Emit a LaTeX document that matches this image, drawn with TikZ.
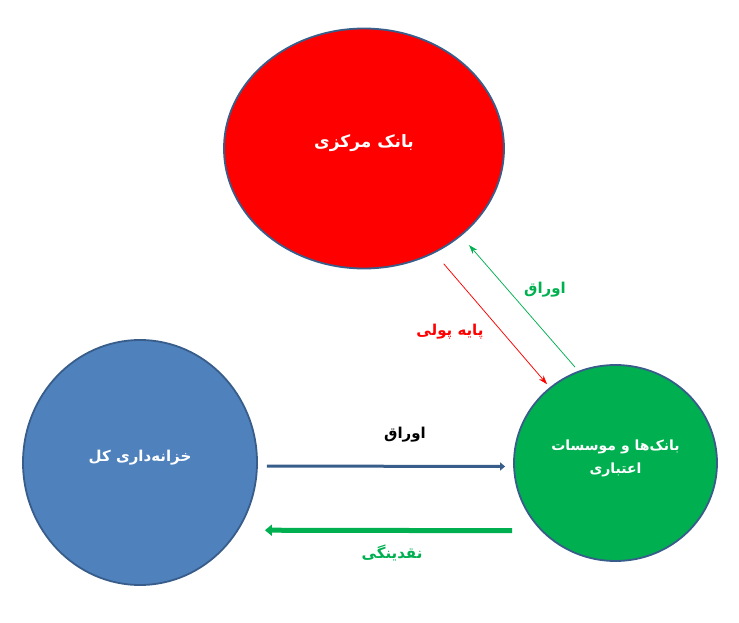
\documentclass[tikz,border=0pt]{standalone}
\usepackage{fontspec}
\usetikzlibrary{shapes.geometric,arrows.meta}
\TeXXeTstate=1
\newfontfamily\farsi[Script=Arabic]{DejaVu Sans}
\definecolor{edgeblue}{RGB}{56,93,138}
\definecolor{fillred}{RGB}{255,0,0}
\definecolor{fillblue}{RGB}{79,129,189}
\definecolor{fillgreen}{RGB}{0,176,80}
\newcommand{\liftR}[1]{\raisebox{5pt}[\height][\depth]{\beginR #1\endR}}
\tikzset{
  bubble/.style={ellipse, draw=edgeblue, line width=1.8pt, inner sep=0pt, text=white, align=center, font=\farsi\bfseries\fontsize{15}{18}\selectfont},
  thinarrow/.style={line width=0.75pt, -{Stealth[length=9pt,width=6pt]}},
  flowlabel/.style={inner sep=0pt, font=\farsi\bfseries\fontsize{15}{18}\selectfont}
}
\begin{document}
\begin{tikzpicture}[x=1pt,y=-1pt]
\useasboundingbox (0,0) rectangle (739,623);
% the three actors
\node[bubble, fill=fillred, minimum width=280, minimum height=240, font=\farsi\bfseries\fontsize{17}{20}\selectfont] (central) at (364,148.5) {\liftR{بانک مرکزی}};
\node[bubble, fill=fillblue, minimum width=234, minimum height=245] (treasury) at (140,462.5) {\liftR{خزانه‌داری کل}};
\node[bubble, fill=fillgreen, minimum width=203, minimum height=196, font=\farsi\bfseries\fontsize{14}{23}\selectfont] (banks) at (615.5,463) {\liftR{بانک‌ها و موسسات}\\\liftR{اعتباری}};
% flows between them
\draw[thinarrow, red, shorten <=14pt, shorten >=4pt] (central.-56.5) -- (banks.131.3);
\draw[thinarrow, fillgreen, shorten <=5pt, shorten >=12pt] (banks.112.4) -- (central.-42.3);
\draw[edgeblue, line width=3pt, -{Triangle[length=5pt,width=8pt]}, shorten <=9pt, shorten >=8pt] ([yshift=-3.5pt]treasury.east) -- ([yshift=-3.5pt]banks.west);
\draw[fillgreen, line width=5pt, -{Triangle[length=7pt,width=11pt]}, shorten <=1pt, shorten >=7pt] ([yshift=-67.7pt]banks.west) -- ([yshift=-67.7pt]treasury.east);
% labels
\node[flowlabel, red] (baselabel) at (450,332) {\beginR پایه پولی\endR};
\node[flowlabel, fillgreen] (paperup) at (545,290) {\beginR اوراق\endR};
\node[flowlabel] (paperright) at (405,435) {\beginR اوراق\endR};
\node[flowlabel, fillgreen] (cashleft) at (392,553) {\beginR نقدینگی\endR};
\end{tikzpicture}
\end{document}
